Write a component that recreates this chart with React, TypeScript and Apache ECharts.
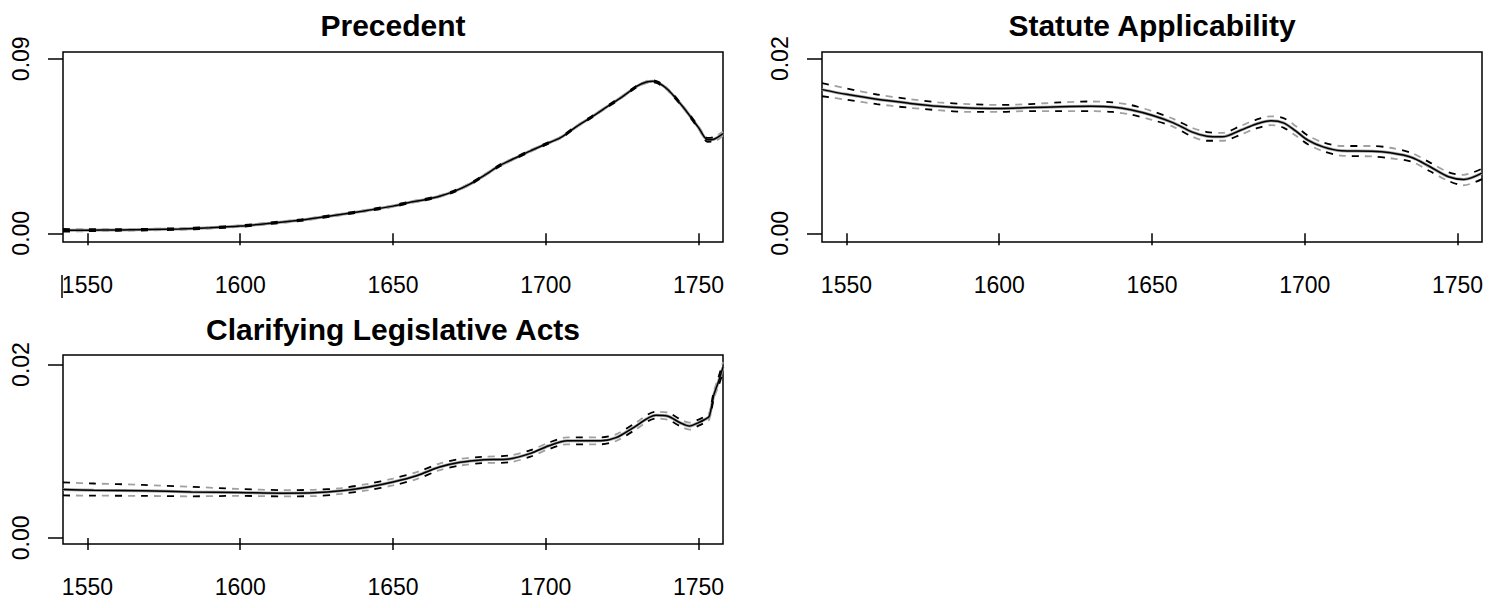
import React, { useEffect, useRef } from "react";
import * as echarts from "echarts";

// ---------- tick labels ----------
const xTicks = [1550, 1600, 1650, 1700, 1750];
const yTicks1 = [0, 0.09];
const yTicks2 = [0, 0.02];
const yTicks3 = [0, 0.02];

const titles = ["Precedent", "Statute Applicability", "Clarifying Legislative Acts"];

// ---------- Precedent ----------
const years1 = [1542, 1550, 1560, 1570, 1580, 1590, 1600, 1610, 1620, 1630, 1640, 1650, 1655, 1660, 1665, 1670, 1675, 1680, 1685, 1690, 1695, 1700, 1705, 1710, 1715, 1720, 1725, 1730, 1733, 1735, 1737, 1740, 1745, 1750, 1753, 1755, 1758];
const mean1 = [0.0015, 0.0016, 0.0017, 0.0019, 0.0022, 0.0028, 0.0037, 0.0052, 0.0068, 0.009, 0.0114, 0.014, 0.0158, 0.0172, 0.019, 0.0216, 0.0252, 0.03, 0.035, 0.0388, 0.0425, 0.046, 0.0495, 0.055, 0.06, 0.0652, 0.0704, 0.076, 0.078, 0.0784, 0.0775, 0.074, 0.065, 0.0545, 0.0482, 0.0485, 0.0514];
const upper1 = [0.0022, 0.0021, 0.0021, 0.0023, 0.0026, 0.0032, 0.0041, 0.0056, 0.0072, 0.0094, 0.0118, 0.0144, 0.0162, 0.0176, 0.0194, 0.022, 0.0256, 0.0304, 0.0354, 0.0392, 0.0429, 0.0464, 0.0499, 0.0554, 0.0604, 0.0656, 0.0708, 0.0764, 0.0785, 0.0789, 0.078, 0.0745, 0.0655, 0.0551, 0.0492, 0.0497, 0.0524];
const lower1 = [0.0008, 0.0011, 0.0013, 0.0015, 0.0018, 0.0024, 0.0033, 0.0048, 0.0064, 0.0086, 0.011, 0.0136, 0.0154, 0.0168, 0.0186, 0.0212, 0.0248, 0.0296, 0.0346, 0.0384, 0.0421, 0.0456, 0.0491, 0.0546, 0.0596, 0.0648, 0.07, 0.0756, 0.0775, 0.0779, 0.077, 0.0735, 0.0645, 0.0539, 0.0472, 0.0473, 0.0504];

// ---------- Statute Applicability ----------
const years2 = [1542, 1550, 1560, 1570, 1580, 1590, 1600, 1610, 1620, 1630, 1637, 1643, 1650, 1657, 1663, 1668, 1673, 1679, 1684, 1689, 1693, 1697, 1701, 1706, 1712, 1722, 1728, 1735, 1741, 1747, 1752, 1758];
const mean2 = [0.01646, 0.01592, 0.01535, 0.01492, 0.01455, 0.01435, 0.0143, 0.0144, 0.0145, 0.01455, 0.01448, 0.01415, 0.01352, 0.01265, 0.01162, 0.01112, 0.01105, 0.01181, 0.0125, 0.01288, 0.01265, 0.01173, 0.01067, 0.0099, 0.00945, 0.00941, 0.00922, 0.00869, 0.00762, 0.00648, 0.00617, 0.0069];
const upper2 = [0.0172, 0.0166, 0.0159, 0.0154, 0.015, 0.0148, 0.0147, 0.0148, 0.015, 0.0151, 0.015, 0.0147, 0.014, 0.0131, 0.0121, 0.0116, 0.0115, 0.0123, 0.013, 0.0134, 0.0132, 0.0123, 0.0112, 0.0104, 0.01, 0.01, 0.0098, 0.0092, 0.0081, 0.007, 0.0067, 0.0074];
const lower2 = [0.0157, 0.0153, 0.0148, 0.0144, 0.0141, 0.0139, 0.0139, 0.014, 0.014, 0.014, 0.0139, 0.0136, 0.013, 0.0122, 0.0111, 0.0106, 0.0106, 0.0113, 0.012, 0.0124, 0.0121, 0.0112, 0.0102, 0.0094, 0.0089, 0.0088, 0.0086, 0.0082, 0.0071, 0.006, 0.0055, 0.0062];

// ---------- Clarifying Legislative Acts ----------
const years3 = [1542, 1552, 1568, 1584, 1599, 1614, 1624, 1633, 1642, 1650, 1658, 1665, 1672, 1679, 1688, 1695, 1701, 1707, 1718, 1723, 1729, 1736, 1740, 1744, 1747, 1750, 1752, 1753.5, 1755, 1756.5, 1758];
const mean3 = [0.00558, 0.0055, 0.00543, 0.00531, 0.00524, 0.00516, 0.0052, 0.00543, 0.00588, 0.00645, 0.00721, 0.00816, 0.00873, 0.009, 0.00911, 0.00975, 0.01063, 0.0112, 0.0112, 0.01157, 0.01279, 0.01416, 0.01404, 0.01328, 0.0129, 0.0133, 0.01366, 0.01404, 0.0165, 0.018, 0.0197];
const upper3 = [0.0064, 0.00628, 0.00612, 0.0059, 0.00565, 0.00552, 0.00555, 0.00575, 0.00625, 0.00685, 0.00762, 0.00855, 0.00912, 0.00935, 0.0095, 0.01012, 0.011, 0.0116, 0.0116, 0.01195, 0.01318, 0.01455, 0.01445, 0.01368, 0.0133, 0.01365, 0.014, 0.0144, 0.0169, 0.0185, 0.0203];
const lower3 = [0.0049, 0.00488, 0.00485, 0.0048, 0.00485, 0.0048, 0.00482, 0.00508, 0.00552, 0.00605, 0.00682, 0.00778, 0.00835, 0.00862, 0.00872, 0.00938, 0.01025, 0.0108, 0.0108, 0.01118, 0.0124, 0.01378, 0.01362, 0.01288, 0.0125, 0.01295, 0.0133, 0.01368, 0.0161, 0.0175, 0.0191];

const FONT = "'Liberation Sans', Arial, Helvetica, sans-serif";

export default function App() {
  const ref = useRef<HTMLDivElement>(null);

  useEffect(() => {
    if (!ref.current) return;
    const chart = echarts.init(ref.current, null, { renderer: "svg" });

    const grids = [
      { left: 63, top: 52, width: 660, height: 190 },
      { left: 822, top: 52, width: 660, height: 190 },
      { left: 63, top: 355, width: 660, height: 189 },
    ];
    const yRanges = [
      { min: -0.0045, max: 0.0935, ticks: yTicks1 },
      { min: -0.001, max: 0.02077, ticks: yTicks2 },
      { min: -0.0007, max: 0.0211, ticks: yTicks3 },
    ];
    const panels = [
      { years: years1, mean: mean1, upper: upper1, lower: lower1 },
      { years: years2, mean: mean2, upper: upper2, lower: lower2 },
      { years: years3, mean: mean3, upper: upper3, lower: lower3 },
    ];

    const labelStyle = { color: "#000", fontSize: 23, fontFamily: FONT };

    const xAxis = grids.map((_, i) => ({
      type: "value",
      gridIndex: i,
      min: 1542,
      max: 1758,
      axisLine: { show: false },
      splitLine: { show: false },
      axisTick: { show: true, inside: false, length: 12, lineStyle: { color: "#000", width: 1.5 }, customValues: xTicks },
      axisLabel: { ...labelStyle, margin: 31, customValues: xTicks, formatter: (v: number) => String(v) },
    }));

    const yAxis = yRanges.map((r, i) => ({
      type: "value",
      gridIndex: i,
      min: r.min,
      max: r.max,
      axisLine: { show: false },
      splitLine: { show: false },
      axisTick: { show: true, inside: false, length: 15, lineStyle: { color: "#000", width: 1.5 }, customValues: r.ticks },
      axisLabel: { ...labelStyle, margin: 31, rotate: 90, customValues: r.ticks, formatter: (v: number) => v.toFixed(2) },
    }));

    const mk = (
      i: number,
      vals: number[],
      years: number[],
      color: string,
      width: number,
      dashed: boolean,
      offset: number,
      z: number
    ) => ({
      type: "line",
      xAxisIndex: i,
      yAxisIndex: i,
      data: years.map((y, k) => [y, vals[k]]),
      symbol: "none",
      showSymbol: false,
      smooth: 0.3,
      silent: true,
      clip: true,
      z,
      lineStyle: { color, width, type: dashed ? [7, 19] : "solid", dashOffset: offset },
    });

    const series: any[] = [];
    panels.forEach((p, i) => {
      series.push(mk(i, p.mean, p.years, "#a0a0a0", 3, false, 0, 2));
      series.push(mk(i, p.upper, p.years, "#a0a0a0", 1.8, true, 13, 2));
      series.push(mk(i, p.lower, p.years, "#a0a0a0", 1.8, true, 13, 2));
      series.push(mk(i, p.upper, p.years, "#000", 1.8, true, 0, 3));
      series.push(mk(i, p.lower, p.years, "#000", 1.8, true, 0, 3));
      series.push(mk(i, p.mean, p.years, "#000", 1.5, false, 0, 3));
    });

    const titleY = [25, 25, 329];
    const graphic: any[] = grids.map((g, i) => ({
      type: "text",
      x: g.left + g.width / 2,
      y: titleY[i],
      style: {
        text: titles[i],
        fill: "#000",
        fontSize: 30,
        fontWeight: "bold",
        fontFamily: FONT,
        align: "center",
        verticalAlign: "middle",
        textAlign: "center",
        textVerticalAlign: "middle",
      },
    }));
    graphic.push({
      type: "line",
      shape: { x1: 62, y1: 275, x2: 62, y2: 298 },
      style: { stroke: "#000", lineWidth: 1.5 },
    });

    chart.setOption({
      animation: false,
      backgroundColor: "#fff",
      grid: grids.map((g) => ({ ...g, show: true, borderColor: "#000", borderWidth: 1.5, backgroundColor: "transparent", containLabel: false })),
      xAxis,
      yAxis,
      series,
      graphic,
    });

    return () => chart.dispose();
  }, []);

  return (
    <div
      ref={ref}
      style={{ position: "fixed", left: 0, top: 0, width: 1504, height: 608, background: "#fff" }}
    />
  );
}
